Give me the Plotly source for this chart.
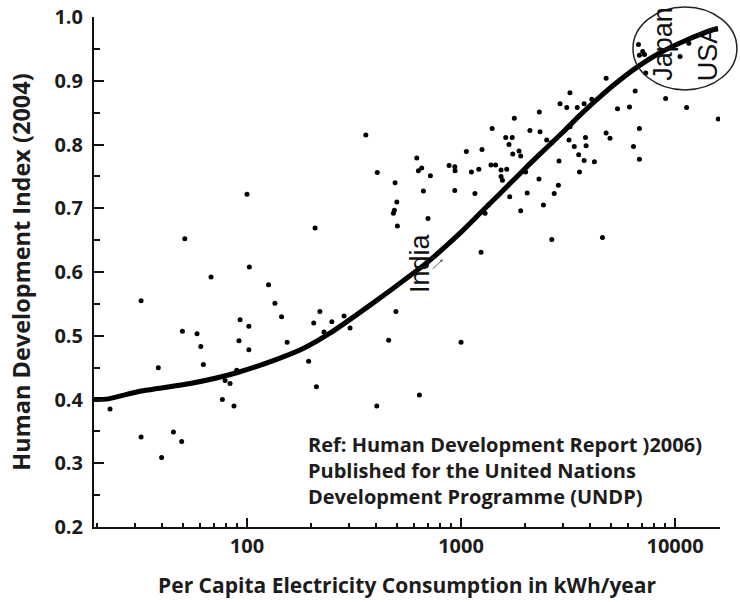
import plotly.graph_objects as go

# scatter data: per capita electricity consumption (kWh/yr) vs HDI
elec = [22.9, 32, 32, 38.5, 39.9, 45.3, 49.5, 49.9, 51.2, 58.4, 60.8, 62.5, 67.9,
        76.7, 79, 83.3, 86.9, 89.5, 91.7, 92.8, 100, 102, 102, 102.5, 126, 135, 145,
        154, 194, 205, 208, 211, 219, 229, 249, 284, 303,
        359, 404, 406, 459, 483, 488, 492, 496, 501, 504, 621, 632, 639, 655, 667,
        701, 719, 879, 935, 938, 935, 1000, 1059, 1118, 1161, 1211, 1240, 1253,
        1295, 1342, 1380, 1398, 1450, 1538, 1538, 1561, 1617, 1635, 1675, 1688,
        1734, 1744, 1774, 1866, 1900, 1900, 2003, 2038, 2098, 2312, 2322, 2340,
        2426, 2513, 2650, 2655, 2724, 2850, 2870, 2900, 3119, 3195, 3228, 3228,
        3380, 3490, 3546, 3576, 3760, 3760, 3815, 3840, 4083, 4200, 4580, 4763,
        4763, 4966, 5382, 6124, 6393, 6509, 6814, 6814, 6745, 7060, 7200, 6815,
        7295, 9036, 10550, 11320, 11600, 15920]
hdi = [0.385, 0.555, 0.341, 0.450, 0.309, 0.349, 0.334, 0.507, 0.652, 0.503, 0.483,
       0.455, 0.592, 0.400, 0.430, 0.425, 0.390, 0.446, 0.492, 0.525, 0.722, 0.515,
       0.478, 0.608, 0.580, 0.551, 0.530, 0.490, 0.460, 0.520, 0.669, 0.420, 0.538,
       0.506, 0.522, 0.531, 0.512,
       0.815, 0.390, 0.756, 0.493, 0.692, 0.697, 0.740, 0.538, 0.710, 0.672, 0.779,
       0.759, 0.407, 0.763, 0.727, 0.684, 0.751, 0.767, 0.765, 0.759, 0.728, 0.490,
       0.789, 0.757, 0.723, 0.761, 0.631, 0.792, 0.692, 0.705, 0.768, 0.825, 0.768,
       0.760, 0.750, 0.744, 0.811, 0.761, 0.800, 0.718, 0.811, 0.785, 0.841, 0.790,
       0.782, 0.696, 0.757, 0.724, 0.822, 0.746, 0.851, 0.820, 0.705, 0.807, 0.803,
       0.651, 0.723, 0.736, 0.774, 0.864, 0.858, 0.807, 0.881, 0.828, 0.797, 0.858,
       0.784, 0.757, 0.864, 0.775, 0.811, 0.798, 0.871, 0.773, 0.654, 0.904, 0.818,
       0.810, 0.856, 0.859, 0.797, 0.884, 0.825, 0.777, 0.957, 0.946, 0.941, 0.940,
       0.912, 0.872, 0.938, 0.858, 0.959, 0.840]

# trend curve
curve_x = [19.3, 22.5, 31.6, 54.2, 89.5, 137.6, 183, 244, 376, 598, 718, 1026,
           1227, 1469, 1754, 2099, 2512, 3006, 3597, 4467, 5152, 6622, 8511,
           11350, 15100, 15900]
curve_y = [0.400, 0.401, 0.413, 0.425, 0.442, 0.463, 0.480, 0.504, 0.548, 0.598,
           0.619, 0.666, 0.692, 0.718, 0.744, 0.770, 0.795, 0.820, 0.846, 0.875,
           0.893, 0.921, 0.944, 0.964, 0.980, 0.981]

x_ticks = [100, 1000, 10000]
x_ticklabels = ["100", "1000", "10000"]
y_ticks = [0.2, 0.3, 0.4, 0.5, 0.6, 0.7, 0.8, 0.9, 1.0]

x_title = "Per Capita Electricity Consumption in kWh/year"
y_title = "Human Development Index (2004)"
ref_text = ("Ref: Human Development Report )2006)<br>Published for the United Nations"
            "<br>Development Programme (UNDP)")

# labelled countries: (name, log10 x position, y position)
labels = [("Japan", 3.944, 0.958), ("USA", 4.154, 0.943), ("India", 2.808, 0.614)]

INK = "#1c1c1c"
TICKFONT = dict(family="Open Sans", size=20, color=INK, weight="bold")

fig = go.Figure()
fig.add_trace(go.Scatter(x=elec, y=hdi, mode="markers",
                         marker=dict(size=5, color="black"), showlegend=False))
fig.add_trace(go.Scatter(x=curve_x, y=curve_y, mode="lines",
                         line=dict(color="black", width=5, shape="spline", smoothing=0.6),
                         showlegend=False))

fig.update_layout(
    width=740, height=602,
    margin=dict(l=94, r=20, t=17, b=75, autoexpand=False),
    paper_bgcolor="white", plot_bgcolor="white",
    xaxis=dict(type="log", range=[1.285, 4.21], tickvals=x_ticks, ticktext=x_ticklabels,
               showline=True, linecolor="#111", linewidth=2, ticks="inside",
               ticklen=9, tickwidth=2, tickcolor="#111", showgrid=False, zeroline=False,
               minor=dict(ticks="inside", ticklen=4, tickwidth=1.5, tickcolor="#111",
                          dtick="D1", showgrid=False),
               tickfont=TICKFONT,
               title=dict(text=x_title, standoff=20,
                          font=dict(family="Open Sans", size=21, color=INK, weight="bold"))),
    yaxis=dict(range=[0.2, 1.0], tickvals=y_ticks, tickformat=".1f",
               showline=True, linecolor="#111", linewidth=2, ticks="inside",
               ticklen=10, tickwidth=2, tickcolor="#111", showgrid=False, zeroline=False,
               minor=dict(ticks="inside", ticklen=6, tickwidth=2, tickcolor="#111",
                          dtick=0.05, showgrid=False),
               tickfont=TICKFONT, ticklabelstandoff=5,
               title=dict(text=y_title, standoff=17,
                          font=dict(family="Open Sans", size=23.5, color=INK, weight="bold"))),
)

# ellipse around Japan / USA
fig.add_shape(type="circle", xref="paper", yref="paper",
              x0=0.861, x1=1.027, y0=0.857, y1=1.0196,
              line=dict(color="#222", width=1.5), layer="above")

label_font = dict(family="Liberation Sans", size=27, color="#111")
for name, lx, ly in labels:
    fig.add_annotation(x=lx, y=ly, xref="x", yref="y", text=name, textangle=-90,
                       showarrow=False, font=label_font)
fig.add_annotation(x=2.916, y=0.620, xref="x", yref="y", text="", showarrow=True,
                   arrowhead=2, arrowsize=0.6, arrowwidth=1, arrowcolor="#666",
                   ax=-12, ay=11)

fig.add_annotation(x=0.3387, y=0.111, xref="paper", yref="paper", text=ref_text,
                   showarrow=False, align="left", xanchor="left", yanchor="middle",
                   font=dict(family="Open Sans", size=20, color=INK, weight="bold"))

fig.write_html("out.html")
